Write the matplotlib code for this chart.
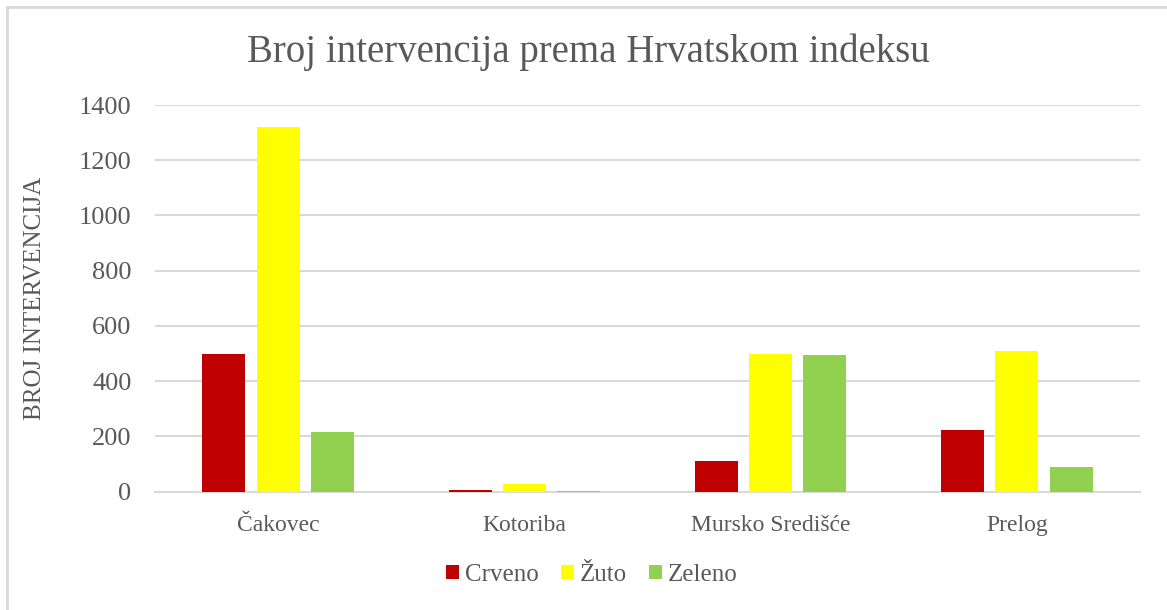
import matplotlib.pyplot as plt
import numpy as np
from matplotlib.patches import Rectangle

# podaci
gradovi = ["Čakovec", "Kotoriba", "Mursko Središće", "Prelog"]
crveno = [497, 6, 109, 224]
zuto = [1320, 26, 497, 508]
zeleno = [215, 3, 493, 88]
serije = ["Crveno", "Žuto", "Zeleno"]
boje = ["#C00000", "#FFFF00", "#92D050"]

plt.rcParams['font.family'] = ['Liberation Serif', 'DejaVu Serif']
siva = "#595959"

fig = plt.figure(figsize=(11.67, 6.10), dpi=100)
ax = fig.add_axes([155/1167, 1 - 491.5/610, 985/1167, (491.5 - 105)/610])

x = np.arange(len(gradovi))
w = 0.175
off = 0.22
for i, (vals, ime, boja) in enumerate(zip([crveno, zuto, zeleno], serije, boje)):
    ax.bar(x + (i - 1) * off, vals, w, color=boja, label=ime, zorder=3)

ax.set_xlim(-0.5, len(gradovi) - 0.5)
ax.set_ylim(0, 1400)
ax.set_yticks(range(0, 1401, 200))
ax.set_xticks(x)
ax.set_xticklabels(gradovi)
ax.grid(axis="y", color="#d9d9d9", linewidth=1.5, zorder=0)
for s in ["top", "right", "left"]:
    ax.spines[s].set_visible(False)
ax.spines["bottom"].set_color("#d9d9d9")
ax.spines["bottom"].set_linewidth(1.5)
ax.tick_params(length=0, colors=siva)
ax.tick_params(axis="y", labelsize=19, pad=17)
ax.tick_params(axis="x", labelsize=17, pad=17)

ax.set_ylabel("BROJ INTERVENCIJA", fontsize=18, color=siva)
ax.yaxis.set_label_coords(-0.111, 0.5)
fig.text(588/1167, 1 - 52/610, "Broj intervencija prema Hrvatskom indeksu",
         ha="center", va="center", fontsize=28, color=siva)

leg = ax.legend(loc="center", bbox_to_anchor=(592/1167, 1 - 575/610),
                bbox_transform=fig.transFigure, ncol=3, frameon=False,
                fontsize=18, handlelength=0.5, handleheight=0.5,
                handletextpad=0.25, columnspacing=0.9)
for t in leg.get_texts():
    t.set_color(siva)

# okvir
fig.add_artist(Rectangle((7/1167, -0.1), 1.2, 1 - 7/610 + 0.1,
                         transform=fig.transFigure, fill=False,
                         edgecolor="#d9d9d9", linewidth=2))

plt.savefig("out.png", dpi=100)
plt.close()
